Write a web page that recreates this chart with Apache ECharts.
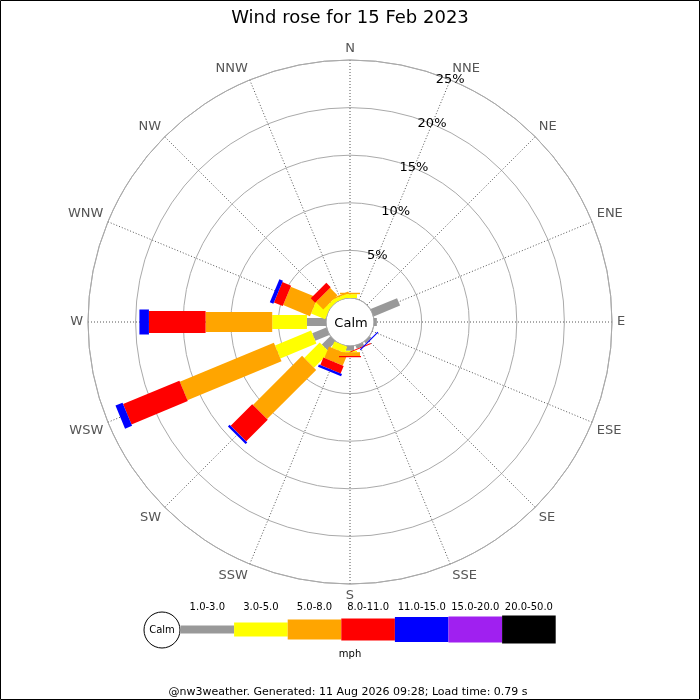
<!DOCTYPE html>
<html><head><meta charset="utf-8">
<script src="https://cdn.jsdelivr.net/npm/echarts@6/dist/echarts.min.js"></script>
<style>html,body{margin:0;padding:0;background:#fff}#c{width:700px;height:700px}</style>
</head><body><div id="c"></div>
<script>
// ---- data ----
const directions = ['N','NNE','NE','ENE','E','ESE','SE','SSE','S','SSW','SW','WSW','W','WNW','NW','NNW'];
const speedBands = ['1.0-3.0','3.0-5.0','5.0-8.0','8.0-11.0','11.0-15.0','15.0-20.0','20.0-50.0'];
//                  N    NNE  NE   ENE  E    ESE  SE    SSE  S     SSW   SW    WSW   W     WNW   NW    NNW
const band1to3   = [0,   0,   0,   3.0, 0.3, 0,   0.25, 0.35,0.5,  0,    1.25, 1.6,  2.0,  0,    0,    0   ];
const band3to5   = [0.4, 0,   0,   0,   0,   0,   0,    0,   0.15, 0.7,  2.3,  4.1,  3.65, 1.6,  0.4,  0.35];
const band5to8   = [0.15,0,   0,   0,   0,   0,   0,    0,   0.4,  1.3,  7.3,  10.7, 7.0,  3.05, 1.1,  0.15];
const band8to11  = [0,   0,   0,   0,   0,   0,   0,    0.1, 0.13, 0.85, 3.2,  6.4,  5.95, 1.0,  0.65, 0   ];
const band11to15 = [0,   0,   0,   0,   0,   0,   0.12, 0,   0,    0.25, 0.25, 0.8,  1.0,  0.4,  0,    0   ];
const band15to20 = [0,   0,   0,   0,   0,   0,   0,    0,   0,    0,    0,    0,    0,    0,    0,    0   ];
const band20to50 = [0,   0,   0,   0,   0,   0,   0,    0,   0,    0,    0,    0,    0,    0,    0,    0   ];
const radiusMax = 25, radiusStep = 5;
const unitLabel = 'mph';
const titleText = 'Wind rose for 15 Feb 2023';
const footerText = '@nw3weather. Generated: 11 Aug 2026 09:28; Load time: 0.79 s';

// ---- styles ----
const bandColors = ['#999999','#ffff00','#ffa500','#ff0000','#0000ff','#a020f0','#000000'];
const bandWidths = [8,14,20,22,25,26,28];
const FONT = 'DejaVu Sans';

const bands = [band1to3,band3to5,band5to8,band8to11,band11to15,band15to20,band20to50];
const step = 360 / directions.length;
const cum = directions.map(()=>0);
const series = bands.map((vals, b) => {
  const data = [];
  vals.forEach((v, i) => {
    const r0 = cum[i], r1 = cum[i] + v;
    cum[i] = r1;
    if (v > 0) data.push([r1, i * step, r0]);
  });
  const w = bandWidths[b];
  return {
    type: 'custom', name: speedBands[b], coordinateSystem: 'polar', polarIndex: 0,
    encode: {radius: 0, angle: 1},
    itemStyle: {color: bandColors[b]},
    silent: true,
    data,
    renderItem: function(params, api){
      const r1 = api.value(0), ang = api.value(1), r0 = api.value(2);
      const pIn = api.coord([0, ang]), pOut = api.coord([radiusMax, ang]);
      let ux = pOut[0]-pIn[0], uy = pOut[1]-pIn[1];
      const L = Math.hypot(ux, uy); ux /= L; uy /= L;
      const a = api.coord([r0, ang]), e = api.coord([r1, ang]);
      const nx = -uy*w/2, ny = ux*w/2;
      return {type:'polygon', shape:{points:[[a[0]+nx,a[1]+ny],[e[0]+nx,e[1]+ny],[e[0]-nx,e[1]-ny],[a[0]-nx,a[1]-ny]]},
              style:{fill: api.visual('color')}};
    }
  };
});

// legend graphics
const legend = [];
const lx0 = 180.5, segW = 53.6, ly = 629.5;
legend.push({type:'circle', shape:{cx:162, cy:630, r:18}, style:{fill:'#fff', stroke:'#000', lineWidth:1}});
legend.push({type:'text', style:{x:162, y:630, text:'Calm', fill:'#000', font:'10px "DejaVu Sans"', align:'center', verticalAlign:'middle'}});
speedBands.forEach((s, b) => {
  const x = lx0 + b*segW, h = bandWidths[b];
  legend.push({type:'rect', shape:{x:x, y:ly-h/2, width:segW, height:h}, style:{fill:bandColors[b]}});
  legend.push({type:'text', style:{x:x+segW/2, y:607, text:s, fill:'#000', font:'10px "DejaVu Sans"', align:'center', verticalAlign:'middle'}});
});
legend.push({type:'text', style:{x:350, y:654, text:unitLabel, fill:'#000', font:'10px "DejaVu Sans"', align:'center', verticalAlign:'middle'}});
legend.push({type:'text', style:{x:348, y:692, text:footerText, fill:'#000', font:'11px "DejaVu Sans"', align:'center', verticalAlign:'middle'}});
legend.push({type:'text', z:100, style:{x:351, y:324, text:'Calm', fill:'#000', font:'13px "DejaVu Sans"', align:'center', verticalAlign:'middle'}});
legend.push({type:'rect', shape:{x:0.5, y:0.5, width:699, height:699}, style:{fill:'none', stroke:'#000', lineWidth:1}});

const chart = echarts.init(document.getElementById('c'), null, {renderer:'canvas'});
chart.setOption({
  animation: false,
  backgroundColor: '#fff',
  textStyle: {fontFamily: FONT},
  title: {text: titleText, left: 'center', top: 4, textStyle: {fontSize: 18, fontWeight: 'normal', color: '#000', fontFamily: FONT}},
  polar: [
    {center: [350, 322], radius: [24, 262]},
    {center: [350, 322], radius: [24, 262]}
  ],
  angleAxis: [
    {polarIndex: 0, type: 'value', min: 0, max: 360, interval: step, startAngle: 90, clockwise: true,
     axisLine: {show: true, lineStyle: {color: '#aaaaaa', width: 1}},
     axisTick: {show: false},
     axisLabel: {show: true, margin: 5, color: '#555555', fontSize: 13, fontFamily: FONT,
                 formatter: v => v >= 360 ? '' : directions[Math.round(v/step)]},
     splitLine: {show: true, lineStyle: {type: [1, 2], color: '#555555', width: 1}}},
    {polarIndex: 1, type: 'value', min: 0, max: 360, startAngle: 90 - step, show: false}
  ],
  radiusAxis: [
    {polarIndex: 0, type: 'value', min: 0, max: radiusMax, interval: radiusStep,
     axisLine: {show: false}, axisTick: {show: false}, axisLabel: {show: false},
     splitLine: {show: true, lineStyle: {color: '#aaaaaa', width: 1}}},
    {polarIndex: 1, type: 'value', min: 0, max: radiusMax, interval: radiusStep, z: 50,
     axisLine: {show: false}, axisTick: {show: false}, splitLine: {show: false},
     axisLabel: {show: true, margin: 0, align: 'center', verticalAlign: 'middle', color: '#000', fontSize: 13, fontFamily: FONT,
                 formatter: v => v === 0 ? '' : v + '%'}}
  ],
  series: series,
  graphic: legend
});
</script>
</body></html>
